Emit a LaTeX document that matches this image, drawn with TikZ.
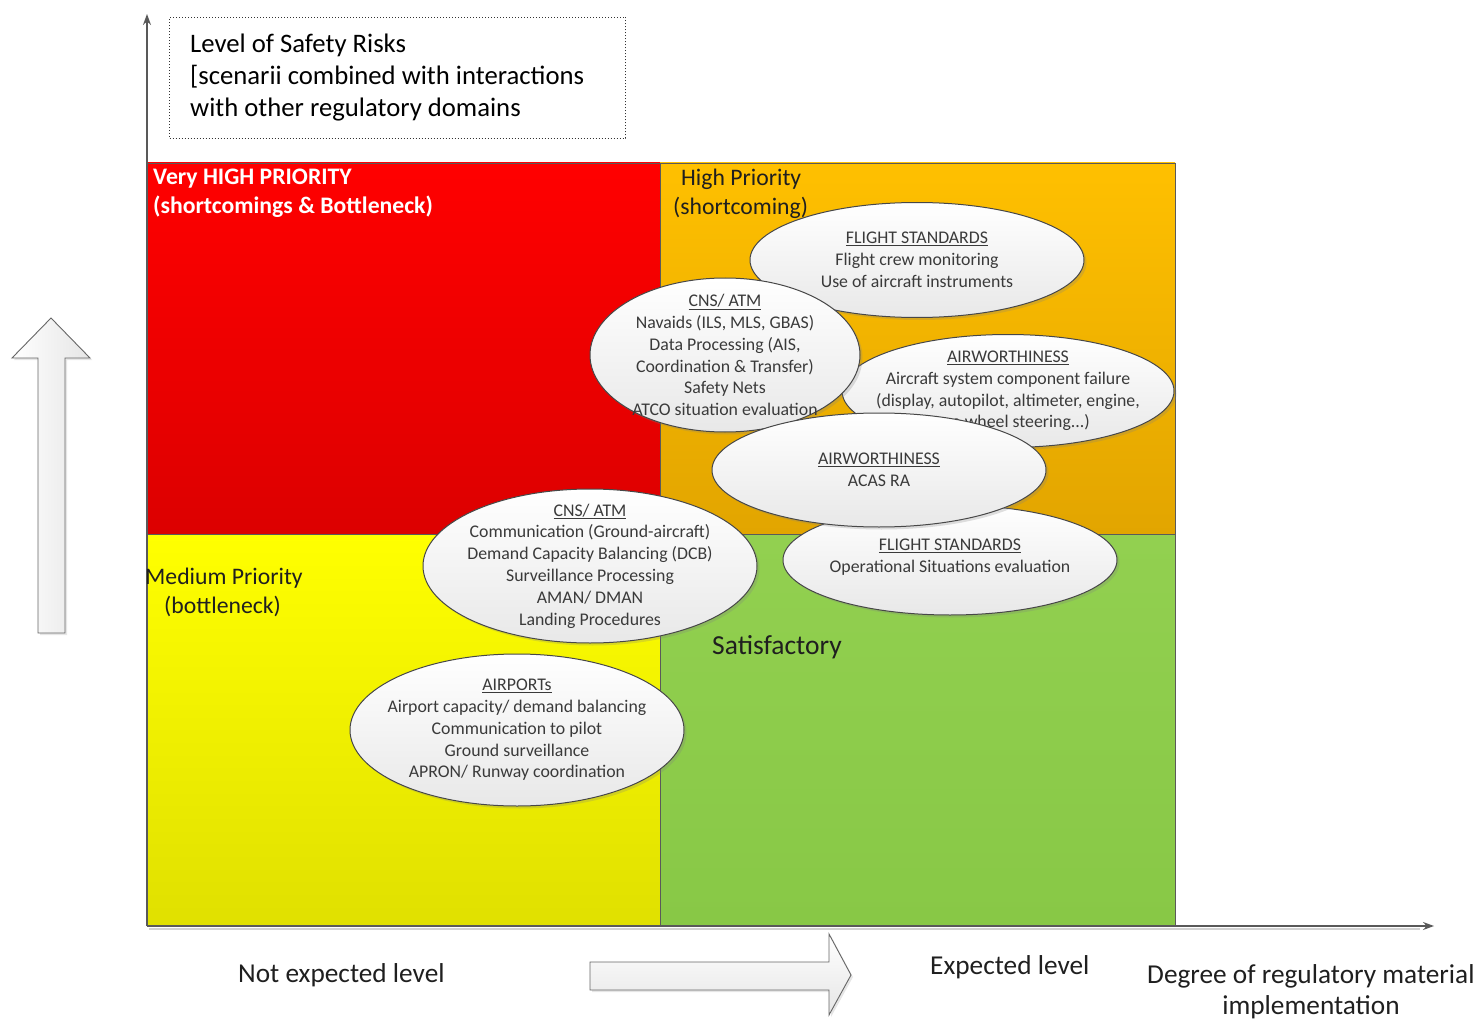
\documentclass[tikz,border=0pt]{standalone}
\usepackage{fontspec}
\setmainfont{Carlito}
\usetikzlibrary{shapes.geometric,shadows,arrows.meta}
\definecolor{redT}{HTML}{FF0000}
\definecolor{redB}{HTML}{DC0000}
\definecolor{orgT}{HTML}{FFC000}
\definecolor{orgB}{HTML}{E2A500}
\definecolor{yelT}{HTML}{FFFF00}
\definecolor{yelB}{HTML}{E0E000}
\definecolor{grnT}{HTML}{92D050}
\definecolor{grnB}{HTML}{88C846}
\definecolor{edge}{HTML}{5A5A5A}
\definecolor{inktext}{HTML}{3A3A3A}
\begin{document}
\begin{tikzpicture}[x=1pt,y=-1pt,
  bubble/.style={ellipse,draw=black!72,line width=1pt,top color=white,bottom color=black!9,
    drop shadow={shadow xshift=2.5pt,shadow yshift=-2.5pt,opacity=0.25},
    inner sep=0pt,outer sep=0pt},
  btext/.style={inner sep=0pt,align=center,text=inktext,font=\fontsize{17.8}{21.8}\selectfont},
  lbl/.style={anchor=base west,inner sep=0pt,text=black!88},
  quadline/.style={draw=edge,line width=0.8pt},
  axisline/.style={draw=black!65,line width=1.3pt,-{Stealth[length=11pt,width=8pt]}},
  hollowarrow/.style={draw=black!60,line width=0.9pt,left color=white,right color=black!10,
    drop shadow={shadow xshift=2pt,shadow yshift=-2pt,opacity=0.2}}]
\useasboundingbox (0,0) rectangle (1481,1019);

% quadrants
\shade[top color=redT,bottom color=redB] (147,163) rectangle (660,534);
\shade[top color=orgT,bottom color=orgB] (660,163) rectangle (1175,534);
\shade[top color=yelT,bottom color=yelB] (147,534) rectangle (660,926);
\shade[top color=grnT,bottom color=grnB] (660,534) rectangle (1175,926);
\draw[quadline] (147,163) rectangle (1175,926);
\draw[quadline] (660,163) -- (660,926);
\draw[quadline] (147,534) -- (1175,534);

% axes
\coordinate (origin) at (147,926);
\coordinate (ytip) at (147,14);
\coordinate (xtip) at (1434,926);
\draw[black!18,line width=2pt] (149,929) -- (1420,929);
\draw[axisline] (origin) -- (ytip);
\draw[axisline] (origin) -- (xtip);

% title box
\node[draw=black!80,dotted,line width=1pt,minimum width=456,minimum height=121,anchor=north west,inner sep=0pt] (titlebox) at (169,17) {};
\begin{scope}[every node/.style={anchor=base west,inner sep=0pt,font=\fontsize{26.7}{32}\selectfont,text=black}]
\node (t1) at (190,52.5) {Level of Safety Risks};
\node (t2) at (190,84.5) {[scenarii combined with interactions};
\node (t3) at (190,116.5) {with other regulatory domains};
\end{scope}

% quadrant labels
\node[lbl,text=white,font=\bfseries\fontsize{23.7}{29}\selectfont] (vh1) at (153,184.5) {Very HIGH PRIORITY};
\node[lbl,text=white,font=\bfseries\fontsize{23.7}{29}\selectfont] (vh2) at (153,214) {(shortcomings \& Bottleneck)};
\node[lbl,font=\fontsize{23.7}{29}\selectfont] (hp1) at (681,186) {High Priority};
\node[lbl,font=\fontsize{23.7}{29}\selectfont] (hp2) at (673,215) {(shortcoming)};
\node[lbl,font=\fontsize{23.7}{29}\selectfont] (mp1) at (145,584) {Medium Priority};
\node[lbl,font=\fontsize{23.7}{29}\selectfont] (mp2) at (164,613) {(bottleneck)};
\node[lbl,font=\fontsize{27.5}{32}\selectfont] (sat) at (712,654) {Satisfactory};

% bubbles
\node[bubble,minimum width=334,minimum height=115,
  label={[btext]center:{\underline{FLIGHT STANDARDS}\\Flight crew monitoring\\Use of aircraft instruments}}] (fs1) at (917,260) {};
\node[bubble,minimum width=332,minimum height=113,
  label={[btext]center:{\underline{AIRWORTHINESS}\\Aircraft system component failure\\(display, autopilot, altimeter, engine,\\nose wheel steering...)}}] (aw1) at (1008,391) {};
\node[bubble,minimum width=270,minimum height=154,
  label={[btext]center:{\underline{CNS/ ATM}\\Navaids (ILS, MLS, GBAS)\\Data Processing (AIS,\\Coordination \& Transfer)\\Safety Nets\\ATCO situation evaluation}}] (cns1) at (725,355) {};
\node[bubble,minimum width=334,minimum height=110,
  label={[btext,yshift=3pt]center:{\underline{FLIGHT STANDARDS}\\Operational Situations evaluation}}] (fs2) at (950,560) {};
\node[bubble,minimum width=334,minimum height=154,
  label={[btext]center:{\underline{CNS/ ATM}\\Communication (Ground-aircraft)\\Demand Capacity Balancing (DCB)\\Surveillance Processing\\AMAN/ DMAN\\Landing Procedures}}] (cns2) at (590,566) {};
\node[bubble,minimum width=334,minimum height=114,
  label={[btext]center:{\underline{AIRWORTHINESS}\\ACAS RA}}] (aw2) at (879,470) {};
\node[bubble,minimum width=334,minimum height=152,
  label={[btext]center:{\underline{AIRPORTs}\\Airport capacity/ demand balancing\\Communication to pilot\\Ground surveillance\\APRON/ Runway coordination}}] (ap) at (517,730) {};

% big hollow arrows
\path[hollowarrow] (38,633) -- (38,358) -- (12,358) -- (51,318) -- (90,358) -- (65,358) -- (65,633) -- cycle;
\path[hollowarrow,top color=white,bottom color=black!10] (590,962) -- (829,962) -- (829,934) -- (851,975) -- (829,1015) -- (829,990) -- (590,990) -- cycle;

% bottom labels
\begin{scope}[every node/.style={inner sep=0pt,font=\fontsize{27.3}{32}\selectfont,text=black!88}]
\node[anchor=base west] (nel) at (238,982.5) {Not expected level};
\node[anchor=base west] (el) at (930,974.5) {Expected level};
\node[anchor=base west] (deg1) at (1147,983.5) {Degree of regulatory material};
\node[anchor=base] (deg2) at (1311,1014) {implementation};
\end{scope}
\end{tikzpicture}
\end{document}
